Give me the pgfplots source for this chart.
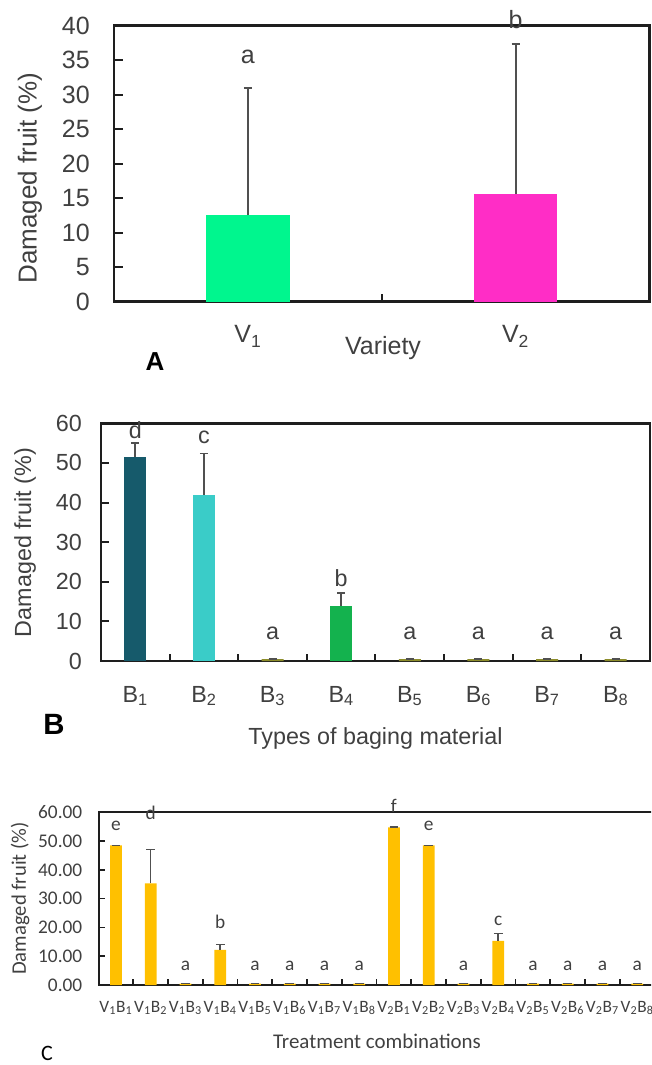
\documentclass[border=0pt]{standalone}
\usepackage{fontspec}
\setmainfont{Liberation Sans}
\newfontfamily\calibri{Carlito}
\usepackage{pgfplots}
\pgfplotsset{compat=1.18}

\definecolor{axisc}{HTML}{1E1E1E}
\definecolor{txt}{HTML}{404040}
\definecolor{errc}{HTML}{505050}
\definecolor{vone}{HTML}{00F68E}
\definecolor{vtwo}{HTML}{FF2DC6}
\definecolor{bone}{HTML}{165A6B}
\definecolor{btwo}{HTML}{3ACCC8}
\definecolor{bfour}{HTML}{14B24E}
\definecolor{bsmall}{HTML}{8C8C2A}
\definecolor{gold}{HTML}{FFC000}

\newcommand\fA{\fontsize{18.75}{22}\selectfont}
\newcommand\fB{\fontsize{17.5}{20}\selectfont}
\newcommand\fC{\calibri\fontsize{14.5}{17}\selectfont}

\pgfplotsset{
  panel/.style={
    scale only axis, clip=false, ymin=0,
    axis line style={line width=2pt, draw=axisc},
    tick align=inside, xtick pos=bottom, ytick pos=left,
    tick style={line width=1.5pt, draw=axisc},
    major x tick style={draw=none},
    /pgf/number format/assume math mode=true,
    ticklabel style={text=txt},
  },
  bars/.style={ybar, bar shift=0pt, draw=none},
  errs/.style n args={2}{error bars/.cd, y dir=plus, y explicit, error mark=|,
    error bar style={line width=#1, draw=errc},
    error mark options={line width=#1, draw=errc, mark size=#2}},
}

\begin{document}
\begin{tikzpicture}
\useasboundingbox (0,0) rectangle (488.25pt,-798.75pt);
\clip (0,0) rectangle (488.25pt,-798.75pt);

% ---------- A: variety
\begin{axis}[panel, at={(85.5pt,-226.3pt)}, anchor=south west,
  width=401.6pt, height=207pt,
  xmin=0.5, xmax=2.5, ymax=40,
  xtick={1,2}, xticklabels={V\textsubscript{1},V\textsubscript{2}},
  minor xtick={1.5}, minor tick length=6pt, major tick length=6.75pt,
  ytick={0,5,...,40},
  ticklabel style={font=\fA},
  yticklabel style={anchor=east, inner sep=0pt, xshift=-18pt},
  xticklabel style={anchor=center, yshift=-26pt},
  bar width=0.312]
\addplot[bars, fill=vone, errs={1.5pt}{3pt}] coordinates {(1,12.5) +- (0,18.5)};
\addplot[bars, fill=vtwo, errs={1.5pt}{3pt}] coordinates {(2,15.6) +- (0,21.8)};
\node[anchor=base, font=\fA, text=txt] at (axis cs:1,34.5) {a};
\node[anchor=base, font=\fA, text=txt] at (axis cs:2,39.6) {b};
\end{axis}

% ---------- B: bagging material
\begin{axis}[panel, at={(75.75pt,-495.75pt)}, anchor=south west,
  width=411.75pt, height=178.3pt,
  xmin=0.5, xmax=8.5, ymax=60,
  xtick={1,...,8},
  xticklabels={B\textsubscript{1},B\textsubscript{2},B\textsubscript{3},B\textsubscript{4},B\textsubscript{5},B\textsubscript{6},B\textsubscript{7},B\textsubscript{8}},
  minor xtick={1.5,2.5,...,7.5}, minor tick length=5.5pt, major tick length=6pt,
  ytick={0,10,...,60},
  ticklabel style={font=\fB},
  yticklabel style={anchor=east, inner sep=0pt, xshift=-14.25pt},
  xticklabel style={anchor=center, yshift=-26.25pt},
  bar width=0.32]
\addplot[bars, fill=bone, errs={1.3pt}{3pt}] coordinates {(1,51.6) +- (0,3.5)};
\addplot[bars, fill=btwo, errs={1.3pt}{3pt}] coordinates {(2,41.9) +- (0,10.5)};
\addplot[bars, fill=bfour, errs={1.3pt}{3pt}] coordinates {(4,14.0) +- (0,3.1)};
\addplot[bars, fill=bsmall, errs={1.3pt}{3pt}] coordinates {
  (3,0.5) +- (0,0.05) (5,0.5) +- (0,0.05) (6,0.5) +- (0,0.05)
  (7,0.5) +- (0,0.05) (8,0.5) +- (0,0.05)};
\node[anchor=base, font=\fB, text=txt] at (axis cs:1,56.2) {d};
\node[anchor=base, font=\fB, text=txt] at (axis cs:2,55.0) {c};
\node[anchor=base, font=\fB, text=txt] at (axis cs:4,18.9) {b};
\pgfplotsinvokeforeach{3,5,6,7,8}{
  \node[anchor=base, font=\fB, text=txt] at (axis cs:#1,5.5) {a};}
\end{axis}

% ---------- C: treatment combinations
\begin{axis}[panel, at={(73.9pt,-738.75pt)}, anchor=south west,
  width=417pt, height=129.5pt,
  axis line style={line width=1.5pt, draw=axisc},
  tick style={line width=1.2pt, draw=axisc},
  xmin=0.5, xmax=16.5, ymax=60,
  xtick={1,...,16},
  xticklabels={V\textsubscript{1}B\textsubscript{1},V\textsubscript{1}B\textsubscript{2},V\textsubscript{1}B\textsubscript{3},V\textsubscript{1}B\textsubscript{4},V\textsubscript{1}B\textsubscript{5},V\textsubscript{1}B\textsubscript{6},V\textsubscript{1}B\textsubscript{7},V\textsubscript{1}B\textsubscript{8},V\textsubscript{2}B\textsubscript{1},V\textsubscript{2}B\textsubscript{2},V\textsubscript{2}B\textsubscript{3},V\textsubscript{2}B\textsubscript{4},V\textsubscript{2}B\textsubscript{5},V\textsubscript{2}B\textsubscript{6},V\textsubscript{2}B\textsubscript{7},V\textsubscript{2}B\textsubscript{8}},
  minor xtick={1.5,2.5,...,15.5}, minor tick length=4.5pt, major tick length=4.5pt,
  ytick={0,10,...,60},
  yticklabel style={font=\calibri\fontsize{14.5}{17}\selectfont, anchor=east, inner sep=0pt, xshift=-12pt,
    /pgf/number format/.cd, fixed, fixed zerofill, precision=2},
  xticklabel style={font=\calibri\fontsize{13}{15}\selectfont, anchor=center, yshift=-17.25pt},
  bar width=0.34]
\addplot[bars, fill=gold, errs={1.1pt}{3.3pt}] coordinates {
  (1,48.5) +- (0,0.05) (2,35.3) +- (0,11.8) (3,0.5) +- (0,0.05) (4,12.2) +- (0,1.9)
  (5,0.5) +- (0,0.05) (6,0.5) +- (0,0.05) (7,0.5) +- (0,0.05) (8,0.5) +- (0,0.05)
  (9,54.8) +- (0,0.05) (10,48.5) +- (0,0.05) (11,0.5) +- (0,0.05) (12,15.3) +- (0,2.6)
  (13,0.5) +- (0,0.05) (14,0.5) +- (0,0.05) (15,0.5) +- (0,0.05) (16,0.5) +- (0,0.05)};
\node[anchor=base, font=\fC, text=txt] at (axis cs:1,53.6) {e};
\node[anchor=base, font=\fC, text=txt] at (axis cs:2,57.5) {d};
\node[anchor=base, font=\fC, text=txt] at (axis cs:4,19.7) {b};
\node[anchor=base, font=\fC, text=txt] at (axis cs:9,60.1) {f};
\node[anchor=base, font=\fC, text=txt] at (axis cs:10,53.6) {e};
\node[anchor=base, font=\fC, text=txt] at (axis cs:12,20.8) {c};
\pgfplotsinvokeforeach{3,5,6,7,8,11,13,14,15,16}{
  \node[anchor=base, font=\fC, text=txt] at (axis cs:#1,5.2) {a};}
\end{axis}

% ---------- outer labels (pixel grid of the reference)
\begin{scope}[x=0.75pt, y=-0.75pt]
\node[rotate=90, font=\fontsize{19.5}{22}\selectfont, text=txt] at (30,178) {Damaged fruit (\%)};
\node[font=\fA, text=txt] at (383,348) {Variety};
\node[font=\fontsize{19.5}{22}\selectfont\bfseries] at (155,362) {A};
\node[rotate=90, font=\fB, text=txt] at (25,542.5) {Damaged fruit (\%)};
\node[font=\fB, text=txt] at (375.5,738) {Types of baging material};
\node[font=\fontsize{22}{24}\selectfont\bfseries] at (54,724) {B};
\node[rotate=90, font=\calibri\fontsize{15.5}{18}\selectfont, text=txt] at (20,898.5) {Damaged fruit (\%)};
\node[font=\calibri\fontsize{15.7}{18}\selectfont, text=txt] at (377,1041.7) {Treatment combinations};
\node[font=\calibri\fontsize{16.5}{18}\selectfont] at (47,1053) {C};
\end{scope}
\end{tikzpicture}
\end{document}
